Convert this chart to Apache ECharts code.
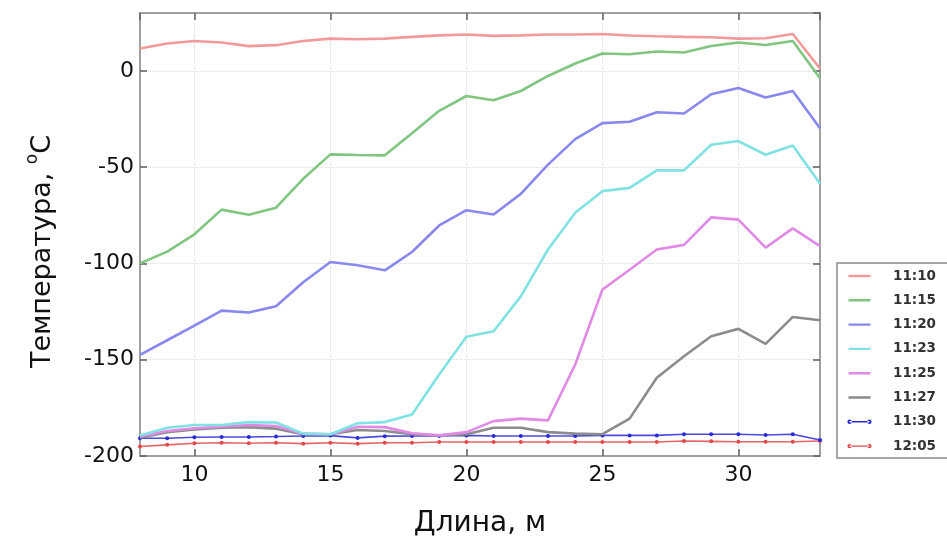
<!DOCTYPE html>
<html>
<head>
<meta charset="utf-8">
<script src="https://cdn.jsdelivr.net/npm/echarts@6/dist/echarts.min.js"></script>
<style>
  html, body { margin: 0; padding: 0; background: #fff; }
  #chart { width: 947px; height: 543px; }
</style>
</head>
<body>
<div id="chart"></div>
<script>
// длина, м
const lengths = [8, 9, 10, 11, 12, 13, 14, 15, 16, 17, 18, 19, 20, 21, 22, 23, 24, 25, 26, 27, 28, 29, 30, 31, 32, 33];

const times = ['11:10', '11:15', '11:20', '11:23', '11:25', '11:27', '11:30', '12:05'];

const t1110 = [11.6, 14.2, 15.5, 14.7, 12.8, 13.3, 15.5, 16.7, 16.4, 16.7, 17.6, 18.4, 18.8, 18.1, 18.4, 18.8, 18.8, 19.1, 18.3, 17.9, 17.6, 17.4, 16.7, 16.9, 19.1, 1.2];
const t1115 = [-100, -93.9, -84.9, -72.1, -74.7, -71.1, -56.1, -43.4, -43.7, -43.9, -32.4, -20.8, -13.1, -15.3, -10.5, -2.7, 3.8, 9.0, 8.6, 10.0, 9.5, 12.9, 14.7, 13.4, 15.5, -3.9];
const t1120 = [-147.5, -139.9, -132.3, -124.5, -125.5, -122.3, -109.8, -99.3, -101, -103.6, -94.1, -80.3, -72.4, -74.6, -63.9, -48.7, -35.5, -27.2, -26.5, -21.5, -22.2, -12.2, -8.9, -13.9, -10.5, -29.8];
const t1123 = [-189.3, -185.3, -183.9, -183.9, -182.4, -182.6, -188.4, -188.7, -183, -182.4, -178.4, -157.7, -138.1, -135.2, -117.1, -92.8, -73.7, -62.5, -60.8, -51.7, -51.7, -38.4, -36.5, -43.6, -38.8, -58.6];
const t1125 = [-189.8, -187, -185.6, -184.8, -183.9, -184.4, -188.4, -188.7, -184.8, -185, -188.2, -189.3, -187.6, -181.9, -180.6, -181.5, -152.5, -113.6, -103.3, -92.8, -90.4, -76.1, -77.3, -91.8, -81.8, -91];
const t1127 = [-190.5, -187.6, -186.2, -185.3, -185, -185.8, -188.7, -188.7, -186.5, -187, -188.7, -189.3, -188.7, -185.3, -185.3, -187.6, -188.4, -188.7, -180.6, -159.4, -148.2, -137.8, -134, -141.8, -127.8, -129.5];
const t1130 = [-190.8, -190.8, -190.3, -190.1, -190.1, -189.9, -189.6, -189.4, -190.6, -189.7, -189.6, -189.6, -189.3, -189.6, -189.6, -189.6, -189.6, -189.3, -189.3, -189.3, -188.7, -188.7, -188.7, -189.1, -188.7, -191.7];
const t1205 = [-195.1, -194.2, -193.4, -193.1, -193.4, -193.1, -193.6, -193.1, -193.6, -193.1, -193.1, -192.7, -192.7, -192.7, -192.7, -192.7, -192.7, -192.7, -192.7, -192.7, -192.2, -192.4, -192.6, -192.6, -192.6, -192.2];

const allValues = [t1110, t1115, t1120, t1123, t1125, t1127, t1130, t1205];
const colors = ['#f29a9a', '#80c680', '#8888ee', '#80e2e2', '#e08ae6', '#8c8c8c', '#2a2ad6', '#e04a4a'];
const withDots = [false, false, false, false, false, false, true, true];

// иконки легенды (рамка 25x14, углы задают размер)
const corners = 'M0,0 L0.01,0 L0,0.01 Z M25,14 L24.99,14 L25,13.99 Z ';
const lineIcon = 'path://' + corners + 'M1.5,5.8 L23.5,5.8 L23.5,8.2 L1.5,8.2 Z';
const dotLineIcon = 'path://' + corners +
    'M0.4,7 A2.2,2.2 0 1,0 4.8,7 A2.2,2.2 0 1,0 0.4,7 Z ' +
    'M20.2,7 A2.2,2.2 0 1,0 24.6,7 A2.2,2.2 0 1,0 20.2,7 Z ' +
    'M2.6,6.3 L22.4,6.3 L22.4,7.7 L2.6,7.7 Z';

const chart = echarts.init(document.getElementById('chart'));

const tickFont = { fontFamily: 'DejaVu Sans', fontSize: 22, color: '#111' };

function ticks() {
    return { show: true, inside: true, length: 7, lineStyle: { color: '#666', width: 1.6 } };
}

const series = times.map(function (name, i) {
    return {
        name: name,
        type: 'line',
        xAxisIndex: 0,
        yAxisIndex: 0,
        data: lengths.map(function (x, j) { return [x, allValues[i][j]]; }),
        showSymbol: withDots[i],
        symbol: withDots[i] ? 'circle' : 'none',
        symbolSize: 4,
        color: colors[i],
        lineStyle: { width: withDots[i] ? 1.6 : 2.6, color: colors[i], opacity: withDots[i] ? 0.85 : 1 },
        itemStyle: { color: colors[i] },
        emphasis: { disabled: true },
        animation: false,
        z: 10 - i
    };
});

const option = {
    animation: false,
    grid: { left: 140, right: 127, top: 13, bottom: 86, show: true, borderColor: '#a0a0a0', borderWidth: 2 },
    legend: {
        orient: 'vertical',
        left: 837,
        top: 263,
        padding: [6, 30, 5, 10],
        itemWidth: 25,
        itemHeight: 14,
        itemGap: 10.3,
        borderColor: '#8a8a8a',
        borderWidth: 1.5,
        backgroundColor: '#fff',
        textStyle: { fontFamily: 'DejaVu Sans', fontSize: 13.5, fontWeight: 'bold', color: '#333', padding: [0, 0, 0, 16] },
        data: times.map(function (name, i) {
            return { name: name, icon: withDots[i] ? dotLineIcon : lineIcon };
        })
    },
    xAxis: [
        {
            type: 'value',
            min: 8,
            max: 33,
            splitNumber: 5,
            name: 'Длина, м',
            nameLocation: 'middle',
            nameGap: 54,
            nameTextStyle: { fontFamily: 'DejaVu Sans', fontSize: 28, color: '#111' },
            axisLine: { show: true, onZero: false, lineStyle: { color: '#a0a0a0', width: 2 } },
            axisTick: ticks(),
            axisLabel: Object.assign({ margin: 8, showMinLabel: false, showMaxLabel: false }, tickFont),
            splitLine: { show: true, lineStyle: { color: '#dcdcdc', type: 'dotted', width: 1 } }
        },
        {
            type: 'value',
            position: 'top',
            min: 8,
            max: 33,
            splitNumber: 5,
            axisLine: { show: true, onZero: false, lineStyle: { color: '#a0a0a0', width: 2 } },
            axisTick: ticks(),
            axisLabel: { show: false },
            splitLine: { show: false }
        }
    ],
    yAxis: [
        {
            type: 'value',
            min: -200,
            max: 30,
            interval: 50,
            name: '{a|Температура, }{s|o}{a|C}',
            nameLocation: 'middle',
            nameGap: 84,
            nameTextStyle: {
                fontFamily: 'DejaVu Sans',
                color: '#111',
                padding: [0, 34, 0, 0],
                rich: {
                    a: { fontFamily: 'DejaVu Sans', fontSize: 27, color: '#111', lineHeight: 32, verticalAlign: 'bottom' },
                    s: { fontFamily: 'DejaVu Sans', fontSize: 17, color: '#111', lineHeight: 32, verticalAlign: 'top' }
                }
            },
            axisLine: { show: true, onZero: false, lineStyle: { color: '#a0a0a0', width: 2 } },
            axisTick: ticks(),
            axisLabel: Object.assign({ margin: 6, showMaxLabel: false }, tickFont),
            splitLine: { show: true, lineStyle: { color: '#dcdcdc', type: 'dotted', width: 1 } }
        },
        {
            type: 'value',
            position: 'right',
            min: -200,
            max: 30,
            interval: 50,
            axisLine: { show: true, onZero: false, lineStyle: { color: '#a0a0a0', width: 2 } },
            axisTick: ticks(),
            axisLabel: { show: false },
            splitLine: { show: false }
        }
    ],
    series: series
};

chart.setOption(option);
</script>
</body>
</html>
